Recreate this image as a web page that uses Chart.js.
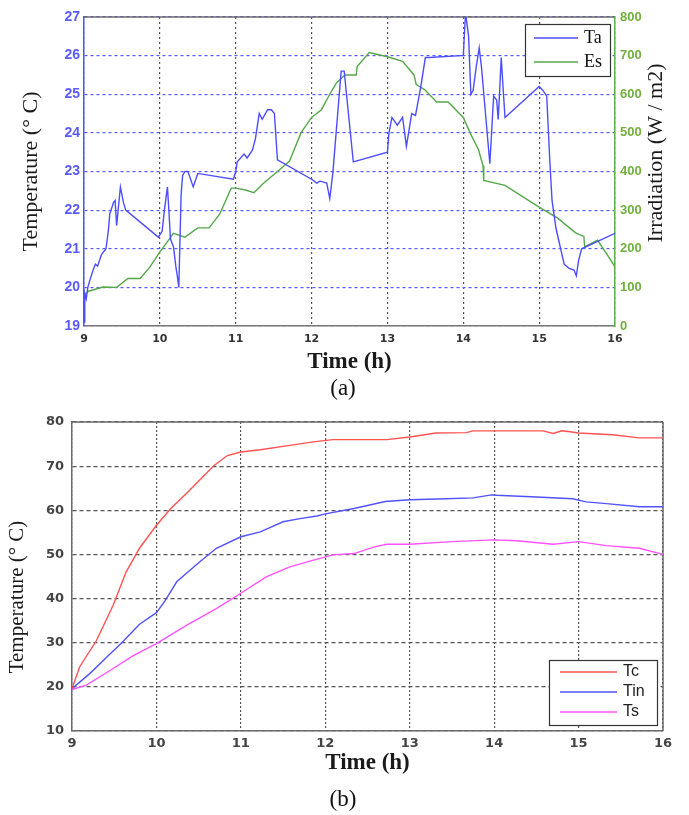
<!DOCTYPE html>
<html>
<head>
<meta charset="utf-8">
<script src="https://cdn.jsdelivr.net/npm/chart.js@4.4.1/dist/chart.umd.min.js"></script>
<style>
  html, body { margin:0; padding:0; background:#fff; }
  #wrap { position:relative; width:689px; height:815px; overflow:hidden; background:#fff; }
  canvas { position:absolute; left:0; }
  .cap { position:absolute; width:60px; text-align:center; font-family:'Liberation Serif', serif; font-size:23px; color:#111; line-height:24px; }
</style>
</head>
<body>
<div id="wrap">
  <canvas id="c1" width="689" height="400" style="top:0px"></canvas>
  <canvas id="c2" width="689" height="415" style="top:400px"></canvas>
  <div class="cap" style="left:313px; top:376px;">(a)</div>
  <div class="cap" style="left:313px; top:787px;">(b)</div>
</div>
<script>
// ---------- Data (a): ambient temperature and irradiation ----------
const taTime = [9.00, 9.01, 9.03, 9.05, 9.08, 9.12, 9.15, 9.18, 9.23, 9.29, 9.32, 9.34, 9.39, 9.41, 9.43, 9.45, 9.48, 9.52, 9.55,
  9.98, 10.03, 10.06, 10.10, 10.12, 10.14, 10.18, 10.21, 10.23, 10.25, 10.28, 10.30, 10.33, 10.37, 10.44, 10.50,
  10.97, 11.00, 11.02, 11.11, 11.15, 11.22, 11.26, 11.31, 11.35, 11.42, 11.47, 11.51, 11.55,
  12.00, 12.07, 12.11, 12.20, 12.24, 12.28, 12.39, 12.43, 12.55,
  13.00, 13.02, 13.06, 13.13, 13.20, 13.25, 13.32, 13.37, 13.44, 13.50, 13.55, 13.97,
  14.00, 14.03, 14.07, 14.10, 14.13, 14.17, 14.21, 14.24, 14.35, 14.40, 14.44, 14.46, 14.48, 14.50, 14.53, 14.55,
  15.00, 15.05, 15.10, 15.14, 15.17, 15.22, 15.26, 15.33, 15.39, 15.46, 15.49, 15.52, 15.56, 16.00];
const taValues = [19.1, 19.85, 19.7, 20.0, 20.2, 20.45, 20.6, 20.55, 20.85, 21.0, 21.45, 21.9, 22.2, 22.25, 21.6, 22.0, 22.6, 22.2, 22.0,
  21.3, 21.45, 22.0, 22.6, 21.95, 21.25, 21.05, 20.55, 20.3, 20.0, 22.4, 22.9, 23.0, 23.0, 22.6, 22.95,
  22.8, 23.0, 23.25, 23.45, 23.35, 23.55, 23.85, 24.5, 24.35, 24.6, 24.6, 24.5, 23.3,
  22.8, 22.7, 22.75, 22.7, 22.3, 22.95, 25.6, 25.6, 23.25,
  23.5, 24.0, 24.4, 24.2, 24.4, 23.65, 24.5, 24.45, 25.2, 25.95, 25.95, 26.0,
  26.0, 27.1, 26.5, 25.0, 25.1, 25.7, 26.2, 25.7, 23.2, 24.95, 24.85, 24.35, 25.1, 25.95, 25.0, 24.4,
  25.2, 25.1, 24.95, 23.3, 22.25, 21.55, 21.2, 20.6, 20.5, 20.45, 20.3, 20.7, 21.0, 21.4];

const esTime = [9.00, 9.06, 9.25, 9.43, 9.58, 9.74, 9.87, 10.00, 10.18, 10.33, 10.50, 10.65, 10.79, 10.94, 11.00, 11.13, 11.24, 11.37,
  11.55, 11.71, 11.86, 12.00, 12.13, 12.24, 12.33, 12.44, 12.59, 12.60, 12.76, 13.00, 13.20, 13.35, 13.38, 13.49, 13.65, 13.80,
  14.00, 14.09, 14.20, 14.26, 14.27, 14.55, 15.00, 15.24, 15.48, 15.59, 15.60, 15.77, 15.88, 16.00];
const esValues = [80, 90, 101, 100, 123, 123, 153, 192, 240, 230, 254, 254, 290, 357, 357, 352, 345, 370,
  400, 427, 500, 540, 560, 600, 630, 650, 650, 672, 708, 697, 685, 650, 625, 612, 580, 580,
  540, 500, 457, 415, 377, 364, 308, 280, 241, 232, 205, 222, 190, 153];

// ---------- Data (b): temperatures ----------
const tcTime = [9.00, 9.09, 9.29, 9.49, 9.64, 9.80, 10.00, 10.17, 10.37, 10.68, 10.84, 11.00, 11.23, 11.58, 11.86, 12.09, 12.73,
  13.00, 13.31, 13.67, 13.75, 14.58, 14.70, 14.80, 14.90, 15.00, 15.40, 15.72, 16.00];
const tcValues = [19.6, 24.5, 30.5, 38.6, 46.0, 51.4, 56.6, 60.4, 64.1, 70.1, 72.4, 73.2, 73.7, 74.7, 75.5, 76.0, 76.0,
  76.6, 77.5, 77.6, 78.0, 78.0, 77.4, 78.0, 77.8, 77.5, 77.1, 76.4, 76.4];

const tinTime = [9.00, 9.21, 9.41, 9.59, 9.80, 10.00, 10.10, 10.24, 10.51, 10.71, 11.00, 11.23, 11.50, 11.70, 11.90, 12.00, 12.34,
  12.71, 13.00, 13.43, 13.75, 13.97, 14.03, 14.50, 14.93, 15.09, 15.33, 15.72, 16.00];
const tinValues = [19.6, 23.0, 26.7, 30.0, 34.2, 36.8, 39.4, 43.8, 48.3, 51.4, 54.0, 55.1, 57.4, 58.1, 58.7, 59.2, 60.4,
  62.0, 62.4, 62.6, 62.8, 63.5, 63.4, 63.0, 62.6, 61.9, 61.5, 60.8, 60.8];

const tsTime = [9.00, 9.17, 9.45, 9.72, 10.00, 10.38, 10.70, 11.00, 11.30, 11.58, 11.86, 12.09, 12.34, 12.58, 12.73, 13.00, 13.50,
  14.00, 14.27, 14.70, 15.00, 15.33, 15.72, 16.00];
const tsValues = [19.4, 20.4, 23.7, 27.0, 29.8, 34.2, 37.6, 41.2, 44.9, 47.2, 48.7, 49.9, 50.2, 51.7, 52.3, 52.3, 52.9,
  53.3, 53.1, 52.3, 52.9, 52.0, 51.4, 50.0];

const xTicksHours = [9, 10, 11, 12, 13, 14, 15, 16];

function pts(xs, ys) { return xs.map((x, i) => ({ x: x, y: ys[i] })); }

// ---------- helper plugins ----------
function framePlugin(id, edges) {
  return {
    id: id,
    beforeDatasetsDraw(chart) {
      const { ctx, chartArea: a } = chart;
      ctx.save();
      ctx.strokeStyle = '#6a6a6a';
      ctx.lineWidth = 1.5;
      ctx.beginPath();
      if (edges.top) { ctx.moveTo(a.left, a.top); ctx.lineTo(a.right, a.top); }
      if (edges.right) { ctx.moveTo(a.right, a.top); ctx.lineTo(a.right, a.bottom); }
      ctx.stroke();
      ctx.restore();
    }
  };
}

function legendPlugin(id, o) {
  return {
    id: id,
    afterDraw(chart) {
      const ctx = chart.ctx;
      ctx.save();
      ctx.fillStyle = '#fff';
      ctx.fillRect(o.x, o.y, o.w, o.h);
      ctx.strokeStyle = '#333';
      ctx.lineWidth = 1.2;
      ctx.strokeRect(o.x + 0.5, o.y + 0.5, o.w, o.h);
      ctx.font = o.font;
      ctx.textBaseline = 'middle';
      ctx.textAlign = 'left';
      chart.data.datasets.forEach((ds, i) => {
        const yy = o.y + o.first + i * o.step;
        ctx.strokeStyle = ds.borderColor;
        ctx.lineWidth = 1.6;
        ctx.beginPath();
        ctx.moveTo(o.x + o.l1, yy);
        ctx.lineTo(o.x + o.l2, yy);
        ctx.stroke();
        ctx.fillStyle = o.color;
        ctx.fillText(ds.label, o.x + o.tx, yy);
      });
      ctx.restore();
    }
  };
}

function rotTitlePlugin(id, items) {
  return {
    id: id,
    afterDraw(chart) {
      const ctx = chart.ctx;
      items.forEach(t => {
        ctx.save();
        ctx.translate(t.x, t.y);
        ctx.rotate(-Math.PI / 2);
        ctx.font = t.font;
        ctx.fillStyle = t.color;
        ctx.textAlign = 'center';
        ctx.textBaseline = 'middle';
        ctx.fillText(t.text, 0, 0);
        ctx.restore();
      });
    }
  };
}

const fixedTicks = (axis) => { axis.ticks = xTicksHours.map(v => ({ value: v })); };

// ---------- Chart (a) ----------
new Chart(document.getElementById('c1'), {
  type: 'line',
  data: {
    datasets: [
      { label: 'Ta', data: pts(taTime, taValues), yAxisID: 'y', borderColor: '#4d4dff', borderWidth: 1.4 },
      { label: 'Es', data: pts(esTime, esValues), yAxisID: 'y1', borderColor: '#55a84a', borderWidth: 1.4 }
    ]
  },
  options: {
    responsive: false, animation: false, devicePixelRatio: 1,
    layout: { padding: { top: 17, left: 0, right: 0, bottom: 0 } },
    elements: { point: { radius: 0 }, line: { tension: 0 } },
    plugins: { legend: { display: false }, tooltip: { enabled: false } },
    scales: {
      x: {
        type: 'linear', min: 9, max: 16,
        afterBuildTicks: fixedTicks,
        ticks: { color: '#333', font: { family: 'DejaVu Sans', weight: 'bold', size: 11 }, padding: 7, maxRotation: 0 },
        grid: { color: '#555', lineWidth: 1.2, drawTicks: false },
        border: { color: '#777', width: 1.5, dash: [2, 3] },
        title: { display: true, text: 'Time (h)', color: '#1a1a1a', font: { family: 'Liberation Serif', size: 23, weight: 'bold' }, padding: { top: 0, bottom: 24 } },
        afterFit(s) { s.height = 74; }
      },
      y: {
        position: 'left', min: 19, max: 27,
        ticks: { stepSize: 1, color: '#5a5aff', font: { family: 'Liberation Sans', weight: 'bold', size: 14 }, padding: 4 },
        grid: { color: '#5a5aff', lineWidth: 1.2, drawTicks: false },
        border: { color: '#5050ff', width: 1.5, dash: [3, 3] },
        title: { display: true, text: 'Temperature (° C)', color: '#1a1a1a', font: { family: 'Liberation Serif', size: 22 }, padding: { top: 18, bottom: 0 } },
        afterFit(s) { s.width = 84; }
      },
      y1: {
        position: 'right', min: 0, max: 800,
        ticks: { stepSize: 100, color: '#72b03e', font: { family: 'Liberation Sans', weight: 'bold', size: 13 }, padding: 5 },
        grid: { drawOnChartArea: false, drawTicks: false },
        border: { color: '#5fae4f', width: 1.5 },
        afterFit(s) { s.width = 74; }
      }
    }
  },
  plugins: [
    framePlugin('frameA', { top: true }),
    legendPlugin('legA', { x: 525, y: 24, w: 85, h: 52, first: 14, step: 24, l1: 9, l2: 53, tx: 59, font: '18px "Liberation Serif"', color: '#111' }),
    rotTitlePlugin('rotA', [{ text: 'Irradiation (W / m2)', x: 656, y: 153, font: '22px "Liberation Serif"', color: '#1a1a1a' }])
  ]
});

// ---------- Chart (b) ----------
new Chart(document.getElementById('c2'), {
  type: 'line',
  data: {
    datasets: [
      { label: 'Tc', data: pts(tcTime, tcValues), borderColor: '#ff5252', borderWidth: 1.4 },
      { label: 'Tin', data: pts(tinTime, tinValues), borderColor: '#5252ff', borderWidth: 1.4 },
      { label: 'Ts', data: pts(tsTime, tsValues), borderColor: '#ff52ff', borderWidth: 1.4 }
    ]
  },
  options: {
    responsive: false, animation: false, devicePixelRatio: 1,
    layout: { padding: { top: 22, left: 0, right: 26, bottom: 0 } },
    elements: { point: { radius: 0 }, line: { tension: 0 } },
    plugins: { legend: { display: false }, tooltip: { enabled: false } },
    scales: {
      x: {
        type: 'linear', min: 9, max: 16,
        afterBuildTicks: fixedTicks,
        ticks: { color: '#444', font: { family: 'DejaVu Sans', weight: 'bold', size: 13 }, padding: 5, maxRotation: 0 },
        grid: { color: '#555', lineWidth: 1.2, drawTicks: false },
        border: { color: '#6a6a6a', width: 1.5, dash: [2, 2] },
        title: { display: true, text: 'Time (h)', color: '#1a1a1a', font: { family: 'Liberation Serif', size: 23, weight: 'bold' }, padding: { top: 0, bottom: 38 } },
        afterFit(s) { s.height = 84; }
      },
      y: {
        position: 'left', min: 10, max: 80,
        ticks: { stepSize: 10, color: '#444', font: { family: 'DejaVu Sans', weight: 'bold', size: 13 }, padding: 8 },
        grid: { color: '#555', lineWidth: 1.2, drawTicks: false },
        border: { color: '#6a6a6a', width: 1.5, dash: [4, 3] },
        afterFit(s) { s.width = 72; }
      }
    }
  },
  plugins: [
    framePlugin('frameB', { top: true, right: true }),
    legendPlugin('legB', { x: 549, y: 260, w: 108, h: 65, first: 12, step: 20, l1: 11, l2: 68, tx: 74, font: '16px "Liberation Sans"', color: '#222' }),
    rotTitlePlugin('rotB', [{ text: 'Temperature (° C)', x: 17, y: 197, font: '21px "Liberation Serif"', color: '#1a1a1a' }])
  ]
});
</script>
</body>
</html>
